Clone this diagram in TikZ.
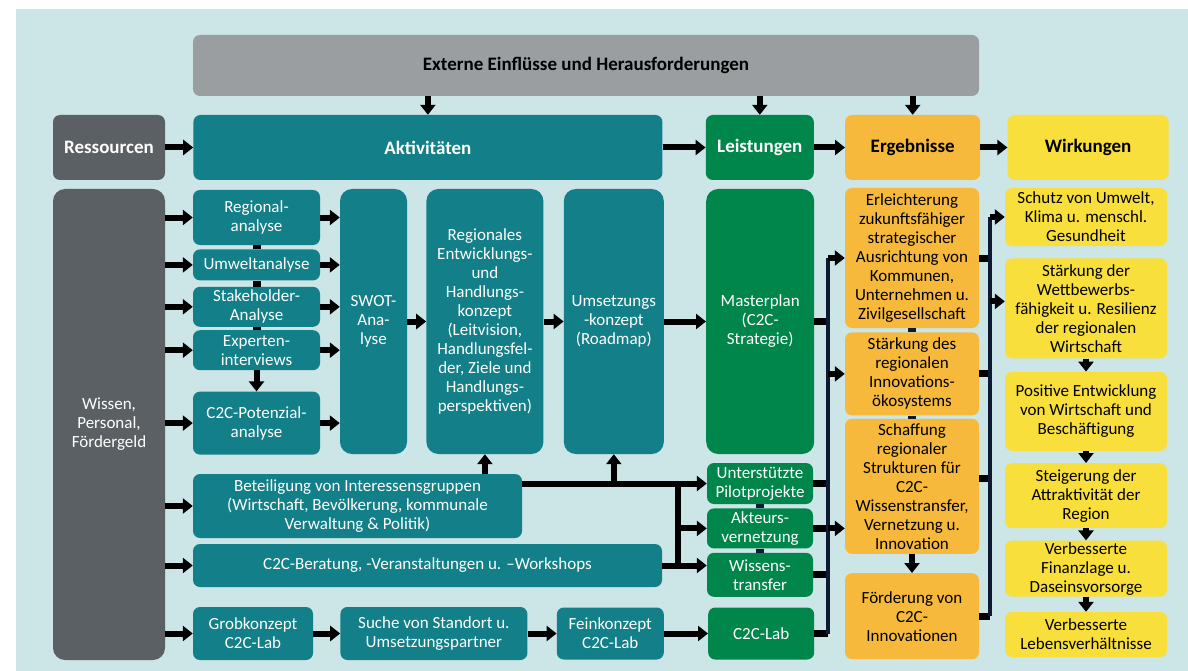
\documentclass[tikz,border=0pt]{standalone}
\usepackage{fontspec}
\setmainfont{Carlito}
\usetikzlibrary{arrows.meta}
\usetikzlibrary{positioning}

\definecolor{bgblue}{HTML}{CCE5E6}
\definecolor{extgray}{HTML}{9A9EA1}
\definecolor{resgray}{HTML}{5A6063}
\definecolor{actteal}{HTML}{137F88}
\definecolor{outgreen}{HTML}{00864A}
\definecolor{resorange}{HTML}{F6B93C}
\definecolor{impyellow}{HTML}{F8DF3B}
\definecolor{busnavy}{HTML}{0E1A33}

\begin{document}
\begin{tikzpicture}[x=1pt, y=-1pt,
  box/.style={rounded corners=7pt, align=center, inner sep=0pt,
    font=\fontsize{17}{19}\selectfont},
  head/.style={minimum height=65pt, font=\fontsize{19}{22}\selectfont\bfseries},
  tall/.style={rounded corners=12pt, minimum height=265pt},
  arr/.style={line width=6pt, -{Triangle[length=10pt,width=15pt]}},
  line/.style={line width=6pt},
  stub/.style={line width=7pt},
  link/.style={line width=8pt, busnavy},
  bus/.style={line width=4pt, busnavy}]

  \useasboundingbox (0,0) rectangle (1188,671);
  \fill[bgblue] (16,9) rectangle (1188,671);

  \node[box, fill=extgray, minimum width=786pt, minimum height=61pt,
    font=\fontsize{19}{22}\selectfont\bfseries] (ext) at (586,65.5)
    {Externe Einflüsse und Herausforderungen};

  % header row
  \node[box, head, fill=resgray, text=white, minimum width=112pt] (res) at (109,147.5) {Ressourcen};
  \node[box, head, fill=actteal, text=white, minimum width=469pt, right=28pt of res] (akt) {Aktivitäten};
  \node[box, head, fill=outgreen, text=white, minimum width=108pt, right=43pt of akt] (leist) {Leistungen};
  \node[box, head, fill=resorange, minimum width=135pt, right=31pt of leist] (ergeb) {Ergebnisse};
  \node[box, head, fill=impyellow, minimum width=161pt, right=27pt of ergeb] (wirk) {Wirkungen};

  \node[box, rounded corners=12pt, fill=resgray, text=white, minimum width=112pt,
    minimum height=471pt] (wissen) at (109,424.5) {Wissen,\\Personal,\\Fördergeld};

  % activities
  \begin{scope}[every node/.style={box, fill=actteal, text=white}]
    \node[minimum width=127pt, minimum height=55pt] (regan) at (256.5,217.5) {Regional-\\analyse};
    \node[minimum width=127pt, minimum height=31pt, below=4pt of regan] (umwelt) {Umweltanalyse};
    \node[minimum width=127pt, minimum height=40pt, below=6pt of umwelt] (stake) {Stakeholder-\\Analyse};
    \node[minimum width=127pt, minimum height=40pt, below=3pt of stake] (expert) {Experten-\\interviews};
    \node[minimum width=127pt, minimum height=63pt, below=21pt of expert] (potan) {C2C-Potenzial-\\analyse};

    \node[tall, minimum width=67pt] (swot) at (373.5,321.5) {SWOT-\\Ana-\\lyse};
    \node[tall, minimum width=117pt, right=19pt of swot] (regkon)
      {Regionales\\Entwicklungs-\\und\\Handlungs-\\konzept\\(Leitvision,\\Handlungsfel-\\der, Ziele und\\Handlungs-\\perspektiven)};
    \node[tall, minimum width=100pt, right=20pt of regkon] (umsetz) {Umsetzungs\\-konzept\\(Roadmap)};

    \node[minimum width=329pt, minimum height=64pt] (betl) at (357.5,506)
      {Beteiligung von Interessensgruppen\\(Wirtschaft, Bevölkerung, kommunale\\Verwaltung \& Politik)};
    \node[minimum width=469pt, minimum height=43pt] (berat) at (427.5,565.5)
      {C2C-Beratung, -Veranstaltungen u. –Workshops};

    \node[minimum width=120pt, minimum height=53pt] (grob) at (253,633.5) {Grobkonzept\\C2C-Lab};
    \node[minimum width=187pt, minimum height=53pt, right=27pt of grob] (suche) {Suche von Standort u.\\Umsetzungspartner};
    \node[minimum width=107pt, minimum height=52pt, right=29pt of suche] (fein) {Feinkonzept\\C2C-Lab};
  \end{scope}

  % outputs
  \begin{scope}[every node/.style={box, fill=outgreen, text=white, minimum width=106pt}]
    \node[tall, minimum width=108pt, right=42pt of umsetz] (master) {Masterplan\\(C2C-\\Strategie)};
    \node[minimum height=41pt] (pilot) at (760,483.5) {Unterstützte\\Pilotprojekte};
    \node[minimum height=40pt, below=4pt of pilot] (akteur) {Akteurs-\\vernetzung};
    \node[minimum height=44pt, below=4pt of akteur] (wisstr) {Wissens-\\transfer};
    \node[minimum height=52pt, right=44pt of fein] (lab) {C2C-Lab};
  \end{scope}

  % results
  \begin{scope}[every node/.style={box, fill=resorange, minimum width=134pt}]
    \node[minimum height=140pt] (erl) at (912,258)
      {Erleichterung\\zukunftsfähiger\\strategischer\\Ausrichtung von\\Kommunen,\\Unternehmen u.\\Zivilgesellschaft};
    \node[minimum height=83pt, below=4pt of erl] (staerk) {Stärkung des\\regionalen\\Innovations-\\ökosystems};
    \node[minimum height=135pt, below=3pt of staerk] (schaff)
      {Schaffung\\regionaler\\Strukturen für\\C2C-\\Wissenstransfer,\\Vernetzung u.\\Innovation};
    \node[minimum height=86pt, below=19pt of schaff] (foerd) {Förderung von\\C2C-\\Innovationen};
  \end{scope}

  % impacts
  \begin{scope}[every node/.style={box, fill=impyellow, minimum width=162pt}]
    \node[minimum height=58pt] (schutz) at (1086,217) {Schutz von Umwelt,\\Klima u. menschl.\\Gesundheit};
    \node[minimum height=100pt, below=12pt of schutz] (wettb)
      {Stärkung der\\Wettbewerbs-\\fähigkeit u. Resilienz\\der regionalen\\Wirtschaft};
    \node[minimum height=79pt, below=13pt of wettb] (posent) {Positive Entwicklung\\von Wirtschaft und\\Beschäftigung};
    \node[minimum height=65pt, below=12pt of posent] (steig) {Steigerung der\\Attraktivität der\\Region};
    \node[minimum height=56pt, below=12pt of steig] (finanz) {Verbesserte\\Finanzlage u.\\Daseinsvorsorge};
    \node[minimum height=45pt, below=15pt of finanz] (leben) {Verbesserte\\Lebensverhältnisse};
  \end{scope}

  \coordinate (jn) at (678,0);
  \coordinate (lbus) at (828,0);
  \coordinate (rbus) at (990,0);
  \coordinate (sstub) at ([yshift=8pt]schaff.east);
  \coordinate (wtip) at ([yshift=7pt]wettb.west);

  % top row
  \foreach \n in {akt,leist,ergeb}
    \draw[arr] (ext.south -| \n) -- (\n.north);
  \foreach \a/\b in {res/akt, akt/leist, leist/ergeb, ergeb/wirk}
    \draw[arr] (\a) -- (\b);

  % activities
  \foreach \n in {regan,umwelt,stake,expert,potan,betl,berat,grob}
    \draw[arr] (wissen.east |- \n) -- (\n.west);
  \foreach \n in {regan,umwelt,stake,expert,potan}
    \draw[arr] (\n.east) -- (\n.east -| swot.west);
  \foreach \a/\b in {regan/umwelt, umwelt/stake, stake/expert}
    \draw[link, black] (\a.south) -- (\b.north);
  \draw[arr] (expert) -- (potan);
  \foreach \a/\b in {swot/regkon, regkon/umsetz, umsetz/master, grob/suche, suche/fein, fein/lab}
    \draw[arr] (\a) -- (\b);

  \draw[arr] (betl.north -| regkon) -- (regkon.south);
  \draw[arr] (betl.east |- pilot) -- (pilot.west);
  \draw[arr] (umsetz |- pilot) -- (umsetz.south);
  \draw[line] (pilot -| jn) -- (berat -| jn);
  \draw[arr] (akteur -| jn) -- (akteur.west);
  \draw[arr] (berat.east) -- (berat -| wisstr.west);
  \draw[link] (pilot.south) -- (akteur.north);
  \draw[link] (akteur.south) -- (wisstr.north);

  % outputs to results
  \foreach \n in {master,pilot,akteur,wisstr,lab}
    \draw[stub] (\n.east) -- (\n -| lbus);
  \draw[bus] (erl -| lbus) -- (lab -| lbus);
  \draw[arr] (erl -| lbus) -- (erl.west);
  \draw[arr] (staerk -| lbus) -- (staerk.west);
  \draw[arr] (akteur -| lbus) -- (akteur -| schaff.west);
  \draw[link] (erl.south) -- (staerk.north);
  \draw[link] (staerk.south) -- (schaff.north);
  \draw[arr] (schaff) -- (foerd);

  % results to impacts
  \draw[stub] (erl.east) -- (erl -| rbus);
  \draw[stub] (staerk.east) -- (staerk -| rbus);
  \draw[stub] (sstub) -- (sstub -| rbus);
  \draw[stub] (foerd.east) -- (foerd -| rbus);
  \draw[bus] (schutz -| rbus) -- (foerd -| rbus);
  \draw[arr] (schutz -| rbus) -- (schutz.west);
  \draw[arr] (wtip -| rbus) -- (wtip);
  \foreach \a/\b in {wettb/posent, posent/steig, steig/finanz, finanz/leben}
    \draw[arr] (\a) -- (\b);
\end{tikzpicture}
\end{document}
